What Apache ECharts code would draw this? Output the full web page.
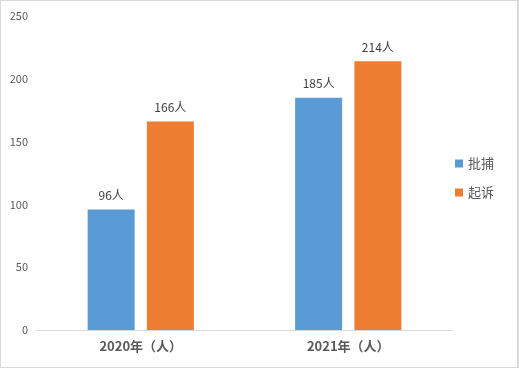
<!DOCTYPE html>
<html><head><meta charset="utf-8">
<script src="https://cdn.jsdelivr.net/npm/echarts@6/dist/echarts.min.js"></script>
<style>
html,body{margin:0;padding:0;background:#fff;}
#c{width:519px;height:368px;box-sizing:border-box;border:1px solid #d9d9d9;border-right-width:2px;}
</style></head>
<body><div id="c"></div>
<script>
const categories = ['2020年（人）', '2021年（人）'];
const seriesNames = ['批捕', '起诉'];
const arrestValues = [96, 185];
const prosecuteValues = [166, 214];
const yTicks = [0, 50, 100, 150, 200, 250];

const chart = echarts.init(document.getElementById('c'));
const font = "'Noto Sans CJK SC', 'Liberation Sans', sans-serif";
const labelCfg = {show: true, position: 'top', distance: 8, color: '#404040', fontSize: 12, fontFamily: font, formatter: p => p.value + '人'};
chart.setOption({
  animation: false,
  grid: {left: 36, right: 65, top: 15, bottom: 37},
  legend: {
    orient: 'vertical', left: 449, top: 151, itemWidth: 8, itemHeight: 8, itemGap: 16,
    icon: 'rect',
    textStyle: {color: '#595959', fontSize: 13, fontFamily: font},
    data: seriesNames
  },
  xAxis: {
    type: 'category', data: categories,
    axisLine: {lineStyle: {color: '#d9d9d9', width: 1}},
    axisTick: {show: false},
    axisLabel: {color: '#595959', fontSize: 13, fontWeight: 'bold', fontFamily: font, margin: 10}
  },
  yAxis: {
    type: 'value', min: yTicks[0], max: yTicks[yTicks.length-1], interval: 50,
    axisLine: {show: false}, axisTick: {show: false},
    splitLine: {show: false},
    axisLabel: {color: '#595959', fontSize: 11, fontFamily: font, margin: 9}
  },
  series: [
    {name: seriesNames[0], type: 'bar', data: arrestValues, barWidth: 47, barGap: '26%', itemStyle: {color: '#5b9bd5'}, label: labelCfg},
    {name: seriesNames[1], type: 'bar', data: prosecuteValues, barWidth: 47, itemStyle: {color: '#ed7d31'}, label: labelCfg}
  ]
});
</script></body></html>
